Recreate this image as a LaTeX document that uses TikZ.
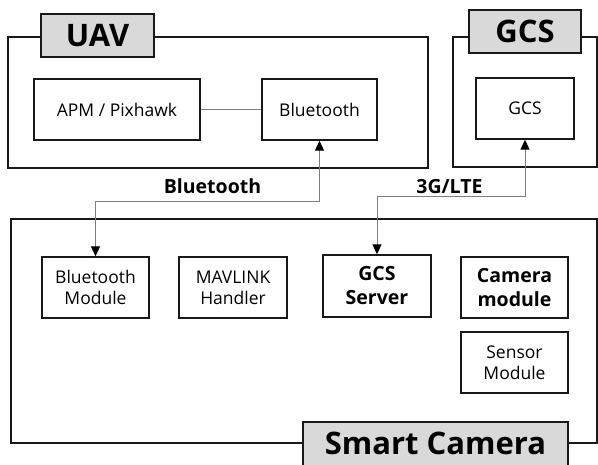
\documentclass[tikz,border=0pt]{standalone}
\usepackage{fontspec}
\setmainfont{Open Sans}
\usetikzlibrary{arrows.meta}
\definecolor{lblgray}{HTML}{D9D9D9}
\definecolor{conngray}{HTML}{7F7F7F}
\begin{document}
\begin{tikzpicture}[x=1pt,y=-1pt,
  outerbox/.style={draw=black!90, line width=1.4pt, rectangle, inner sep=0pt},
  lblbox/.style={draw=black!90, line width=1.4pt, fill=lblgray, rectangle, inner sep=0pt,
     font=\bfseries\fontsize{31}{36}\selectfont},
  innerbox/.style={draw=black!90, line width=1.4pt, fill=white, rectangle, inner sep=0pt,
     align=center, font=\fontsize{17.5}{21}\selectfont},
  boldbox/.style={innerbox, font=\bfseries\fontsize{19.5}{24}\selectfont},
  conn/.style={draw=conngray, line width=1pt},
  tip/.tip={Triangle[width=9pt,length=10pt,color=black]},
  linklbl/.style={font=\bfseries\fontsize{19.5}{22}\selectfont, inner sep=0pt}
]
\clip (0,0) rectangle (598,464);
\fill[white] (0,0) rectangle (598,464);
% UAV
\node[outerbox, minimum width=420, minimum height=131] (uavbox) at (218,102.5) {};
\node[lblbox, minimum width=113, minimum height=43] (uavlbl) at (97.5,35.5) {UAV};
\node[innerbox, minimum width=166, minimum height=61] (apm) at (117,109.5) {APM / Pixhawk};
\node[innerbox, minimum width=115, minimum height=61] (bt) at (319.5,109.5) {Bluetooth};
\draw[conn] (apm.east) -- (bt.west);
% GCS
\node[outerbox, minimum width=144, minimum height=130] (gcsbox) at (525,102) {};
\node[lblbox, minimum width=112, minimum height=43] (gcslbl) at (525,31.5) {GCS};
\node[innerbox, minimum width=98, minimum height=61] (gcs) at (525,108.5) {GCS};
% Smart Camera
\node[outerbox, minimum width=586, minimum height=224] (smartbox) at (304,331) {};
\node[lblbox, minimum width=265, minimum height=50] (smartlbl) at (435.5,447) {};
\node[font=\bfseries\fontsize{31}{36}\selectfont, inner sep=0pt] (smarttxt) at (435.5,443) {Smart Camera};
\node[innerbox, minimum width=107, minimum height=61] (btm) at (95.5,287.5) {Bluetooth\\Module};
\node[innerbox, minimum width=108, minimum height=61] (mav) at (233,287.5) {MAVLINK\\Handler};
\node[boldbox, minimum width=108, minimum height=62] (srv) at (377,286) {GCS\\Server};
\node[boldbox, minimum width=107, minimum height=61] (cam) at (514.5,287.5) {Camera\\module};
\node[innerbox, minimum width=107, minimum height=61] (sens) at (514.5,362.5) {Sensor\\Module};
% connectors
\coordinate (btbend) at (319.5,201);
\coordinate (ltebend) at (525,196);
\draw[conn, tip-tip] (bt.south) -- (btbend) -| (btm.north);
\draw[conn, tip-tip] (gcs.south) -- (ltebend) -| (srv.north);
\node[linklbl] (btlbl) at (212.5,186) {Bluetooth};
\node[linklbl] (ltelbl) at (449.5,187) {3G/LTE};
\end{tikzpicture}
\end{document}
